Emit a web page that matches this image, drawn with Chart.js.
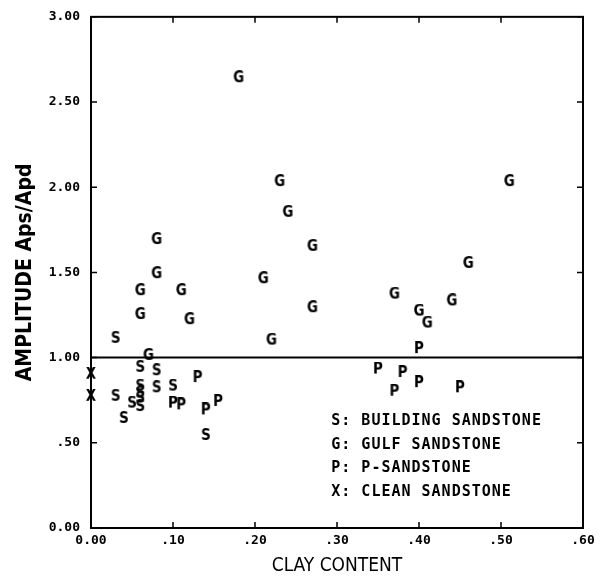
<!DOCTYPE html>
<html>
<head>
<meta charset="utf-8">
<script src="https://cdn.jsdelivr.net/npm/chart.js@4"></script>
<style>
  html, body { margin: 0; padding: 0; background: #fff; }
  #wrap { width: 608px; height: 580px; position: relative; }
</style>
</head>
<body>
<div id="wrap"><canvas id="clayChart"></canvas></div>
<script>
// clay content (x) vs amplitude ratio Aps/Apd (y), one pair of arrays per rock type
const buildingX = [0.03, 0.06, 0.08, 0.06, 0.08, 0.10, 0.03, 0.05, 0.06, 0.06, 0.06, 0.04, 0.14];
const buildingY = [1.11, 0.94, 0.92, 0.83, 0.82, 0.83, 0.77, 0.73, 0.71, 0.79, 0.76, 0.64, 0.54];

const gulfX = [0.18, 0.23, 0.24, 0.27, 0.21, 0.27, 0.22, 0.08, 0.08, 0.06, 0.11, 0.06, 0.12, 0.07,
               0.51, 0.46, 0.37, 0.44, 0.40, 0.41];
const gulfY = [2.64, 2.03, 1.85, 1.65, 1.46, 1.29, 1.10, 1.69, 1.49, 1.39, 1.39, 1.25, 1.22, 1.01,
               2.03, 1.55, 1.37, 1.33, 1.27, 1.20];

const pX = [0.40, 0.35, 0.38, 0.37, 0.40, 0.45, 0.13, 0.10, 0.11, 0.14, 0.155];
const pY = [1.05, 0.93, 0.91, 0.80, 0.85, 0.82, 0.88, 0.73, 0.72, 0.69, 0.74];

const cleanX = [0.00, 0.00];
const cleanY = [0.90, 0.77];

const refLineX = [0.00, 0.60];
const refLineY = [1.00, 1.00];

const legendLines = ['S: BUILDING SANDSTONE', 'G: GULF SANDSTONE', 'P: P-SANDSTONE', 'X: CLEAN SANDSTONE'];
const legendX = 0.293;
const legendY = [0.626, 0.489, 0.352, 0.212];

const xTicks = [0, 0.1, 0.2, 0.3, 0.4, 0.5, 0.6];
const yTicks = [0, 0.5, 1.0, 1.5, 2.0, 2.5, 3.0];

function toPoints(xs, ys) {
  return xs.map((x, i) => ({ x: x, y: ys[i] }));
}

// letter glyph used as the point marker
function glyph(letter) {
  const c = document.createElement('canvas');
  c.width = 14;
  c.height = 16;
  const g = c.getContext('2d');
  g.fillStyle = '#000';
  g.font = 'bold 15px "Liberation Sans Narrow", "DejaVu Sans Condensed", sans-serif';
  g.textAlign = 'center';
  g.textBaseline = 'middle';
  g.fillText(letter, 7, 8.5);
  return c;
}

function fmt(v) {
  if (v === 0) return '0.00';
  const s = v.toFixed(2);
  return s.startsWith('0') ? s.slice(1) : s;
}

const TICK_FONT = { family: '"DejaVu Sans Mono", monospace', size: 13, weight: 'bold', lineHeight: 0.9 };

// frame, inward ticks on all four sides, and the key inside the plot
const framePlugin = {
  id: 'frame',
  afterDraw(chart) {
    const ctx = chart.ctx;
    const a = chart.chartArea;
    const xs = chart.scales.x, ys = chart.scales.y;
    ctx.save();
    ctx.strokeStyle = '#000';
    ctx.lineWidth = 2;
    ctx.strokeRect(a.left, a.top, a.right - a.left, a.bottom - a.top);
    ctx.lineWidth = 1.5;
    ctx.beginPath();
    xTicks.forEach(v => {
      const px = xs.getPixelForValue(v);
      ctx.moveTo(px, a.bottom); ctx.lineTo(px, a.bottom - 6);
      ctx.moveTo(px, a.top); ctx.lineTo(px, a.top + 6);
    });
    yTicks.forEach(v => {
      const py = ys.getPixelForValue(v);
      ctx.moveTo(a.left, py); ctx.lineTo(a.left + 6, py);
      ctx.moveTo(a.right, py); ctx.lineTo(a.right - 6, py);
    });
    ctx.stroke();

    ctx.fillStyle = '#000';
    ctx.font = 'bold 15px "DejaVu Sans Mono", monospace';
    ctx.letterSpacing = '1px';
    ctx.textBaseline = 'middle';
    ctx.textAlign = 'left';
    legendLines.forEach((t, i) => {
      ctx.fillText(t, xs.getPixelForValue(legendX), ys.getPixelForValue(legendY[i]));
    });
    ctx.restore();
  }
};

const ctx = document.getElementById('clayChart').getContext('2d');
new Chart(ctx, {
  type: 'scatter',
  data: {
    datasets: [
      {
        label: 'Amplitude 1.00',
        type: 'line',
        data: toPoints(refLineX, refLineY),
        borderColor: '#000',
        borderWidth: 2,
        pointRadius: 0,
        showLine: true,
        clip: false
      },
      { label: 'BUILDING SANDSTONE', data: toPoints(buildingX, buildingY), pointStyle: glyph('S'), clip: false },
      { label: 'GULF SANDSTONE', data: toPoints(gulfX, gulfY), pointStyle: glyph('G'), clip: false },
      { label: 'P-SANDSTONE', data: toPoints(pX, pY), pointStyle: glyph('P'), clip: false },
      { label: 'CLEAN SANDSTONE', data: toPoints(cleanX, cleanY), pointStyle: glyph('X'), clip: false }
    ]
  },
  options: {
    responsive: true,
    maintainAspectRatio: false,
    animation: false,
    layout: { padding: { top: 14, right: 25, left: 0, bottom: 0 } },
    plugins: {
      legend: { display: false },
      tooltip: { enabled: false }
    },
    scales: {
      x: {
        type: 'linear',
        min: 0,
        max: 0.6,
        afterBuildTicks: s => { s.ticks = xTicks.map(v => ({ value: v })); },
        afterFit: s => { s.height = 52; },
        grid: { display: false, tickLength: 0 },
        border: { display: false },
        ticks: { color: '#000', font: TICK_FONT, padding: 7, maxRotation: 0, callback: v => fmt(v) },
        title: {
          display: true,
          text: 'CLAY CONTENT',
          color: '#000',
          font: { family: '"DejaVu Sans Condensed", "DejaVu Sans", sans-serif', size: 19 },
          padding: { top: 2, bottom: 3 }
        }
      },
      y: {
        type: 'linear',
        min: 0,
        max: 3,
        afterBuildTicks: s => { s.ticks = yTicks.map(v => ({ value: v })); },
        afterFit: s => { s.width = 91; },
        grid: { display: false, tickLength: 0 },
        border: { display: false },
        ticks: { color: '#000', font: TICK_FONT, padding: 11, callback: v => fmt(v) },
        title: {
          display: true,
          text: 'AMPLITUDE Aps/Apd',
          color: '#000',
          font: { family: '"DejaVu Sans Condensed", "DejaVu Sans", sans-serif', size: 21, weight: 'bold' },
          padding: { top: 13, bottom: 0 }
        }
      }
    }
  },
  plugins: [framePlugin]
});
</script>
</body>
</html>
